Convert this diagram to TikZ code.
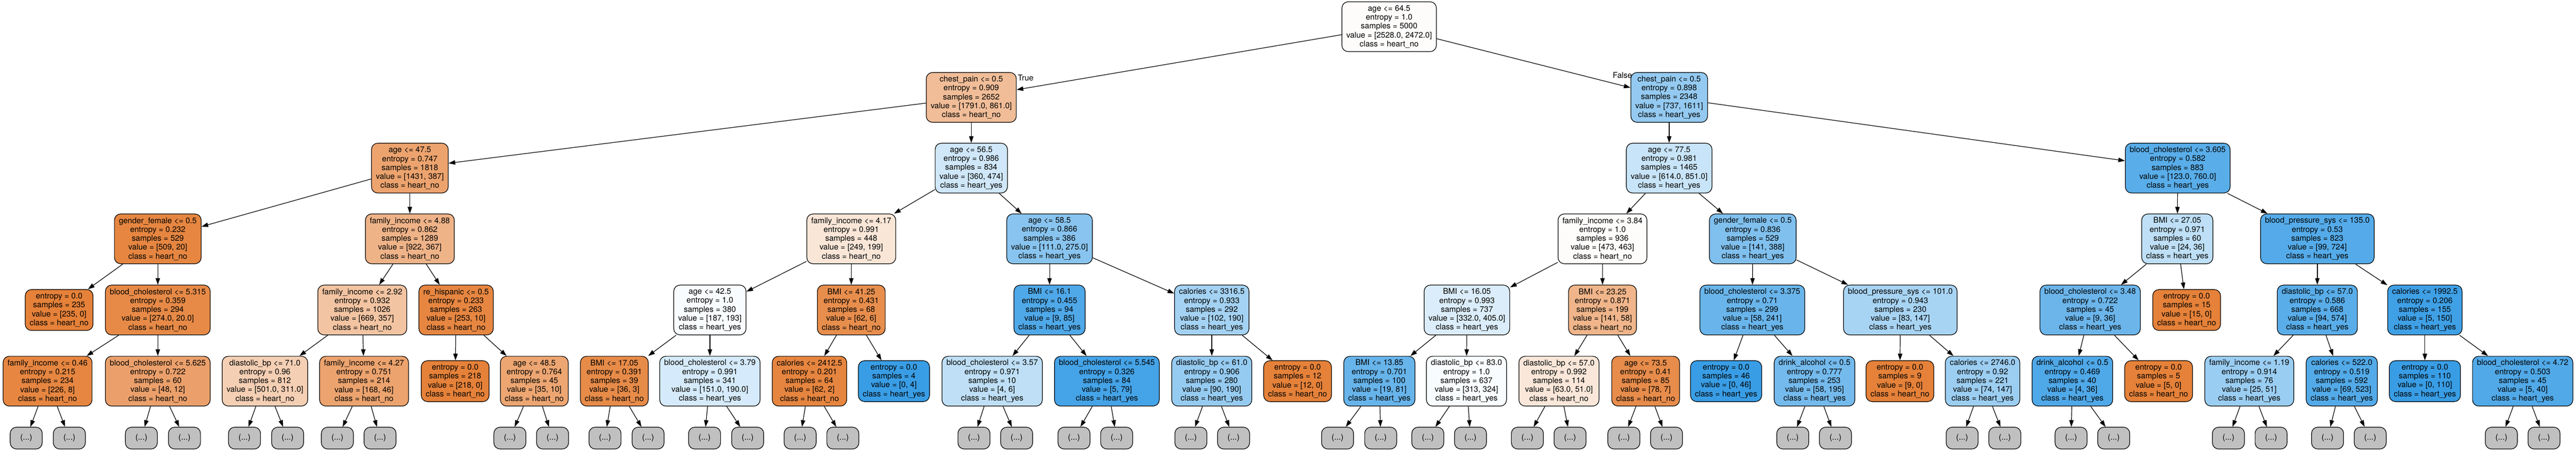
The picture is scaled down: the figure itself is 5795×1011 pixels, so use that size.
\documentclass[tikz,border=0pt]{standalone}
\usepackage{fontspec}
\setmainfont{TeX Gyre Heros}
\usetikzlibrary{arrows.meta}
\definecolor{hno}{RGB}{229,129,57}
\definecolor{hyes}{RGB}{57,157,229}
\definecolor{elidedgray}{RGB}{192,192,192}
\begin{document}
\begin{tikzpicture}[x=0.1mm, y=-0.1mm, line width=0.4pt, >={Triangle[length=1.5mm, width=1mm]},
	nodebox/.style = {draw, rounded corners=1.4mm, align=center, inner xsep=1mm, inner ysep=0pt, font=\fontsize{5.1pt}{5.69pt}\selectfont},
	splitbox/.style = {nodebox, minimum height=11.2mm},
	leafbox/.style = {nodebox, minimum height=9.2mm},
	elided/.style = {nodebox, fill=elidedgray, minimum width=7.2mm, minimum height=4.9mm, inner xsep=0pt},
	edgetext/.style = {inner sep=0pt, font=\fontsize{5.1pt}{5.69pt}\selectfont}]
\useasboundingbox (0,0) rectangle (5795,1011);
	\node (S0) at (3125,  60)	[splitbox, fill = hno!2]	{age <= 64.5\\entropy = 1.0\\samples = 5000\\value = [2528.0, 2472.0]\\class = heart\_no};
	\node (S1) at (2185, 219)	[splitbox, fill = hno!52]	{chest\_pain <= 0.5\\entropy = 0.909\\samples = 2652\\value = [1791.0, 861.0]\\class = heart\_no};
	\node (S2) at (3755, 219)	[splitbox, fill = hyes!54]	{chest\_pain <= 0.5\\entropy = 0.898\\samples = 2348\\value = [737, 1611]\\class = heart\_yes};
	\node (S3) at ( 922, 378)	[splitbox, fill = hno!73]	{age <= 47.5\\entropy = 0.747\\samples = 1818\\value = [1431, 387]\\class = heart\_no};
	\node (S4) at (2185, 378)	[splitbox, fill = hyes!24]	{age <= 56.5\\entropy = 0.986\\samples = 834\\value = [360, 474]\\class = heart\_yes};
	\node (S5) at (3755, 378)	[splitbox, fill = hyes!28]	{age <= 77.5\\entropy = 0.981\\samples = 1465\\value = [614.0, 851.0]\\class = heart\_yes};
	\node (S6) at (4899, 378)	[splitbox, fill = hyes!84]	{blood\_cholesterol <= 3.605\\entropy = 0.582\\samples = 883\\value = [123.0, 760.0]\\class = heart\_yes};
	\node (S7) at ( 355, 537)	[splitbox, fill = hno!96]	{gender\_female <= 0.5\\entropy = 0.232\\samples = 529\\value = [509, 20]\\class = heart\_no};
	\node (S8) at ( 922, 537)	[splitbox, fill = hno!60]	{family\_income <= 4.88\\entropy = 0.862\\samples = 1289\\value = [922, 367]\\class = heart\_no};
	\node (S9) at (1915, 537)	[splitbox, fill = hno!20]	{family\_income <= 4.17\\entropy = 0.991\\samples = 448\\value = [249, 199]\\class = heart\_no};
	\node (S10) at (2361, 537)	[splitbox, fill = hyes!60]	{age <= 58.5\\entropy = 0.866\\samples = 386\\value = [111.0, 275.0]\\class = heart\_yes};
	\node (S11) at (3605, 537)	[splitbox, fill = hno!2]	{family\_income <= 3.84\\entropy = 1.0\\samples = 936\\value = [473, 463]\\class = heart\_no};
	\node (S12) at (3943, 537)	[splitbox, fill = hyes!64]	{gender\_female <= 0.5\\entropy = 0.836\\samples = 529\\value = [141, 388]\\class = heart\_yes};
	\node (S13) at (4898, 537)	[splitbox, fill = hyes!33]	{BMI <= 27.05\\entropy = 0.971\\samples = 60\\value = [24, 36]\\class = heart\_yes};
	\node (S14) at (5213, 537)	[splitbox, fill = hyes!86]	{blood\_pressure\_sys <= 135.0\\entropy = 0.53\\samples = 823\\value = [99, 724]\\class = heart\_yes};
	\node (L1) at ( 133, 697)	[leafbox, fill = hno]	{entropy = 0.0\\samples = 235\\value = [235, 0]\\class = heart\_no};
	\node (S15) at ( 355, 697)	[splitbox, fill = hno!93]	{blood\_cholesterol <= 5.315\\entropy = 0.359\\samples = 294\\value = [274.0, 20.0]\\class = heart\_no};
	\node (S16) at ( 815, 697)	[splitbox, fill = hno!47]	{family\_income <= 2.92\\entropy = 0.932\\samples = 1026\\value = [669, 357]\\class = heart\_no};
	\node (S17) at (1026, 697)	[splitbox, fill = hno!96]	{re\_hispanic <= 0.5\\entropy = 0.233\\samples = 263\\value = [253, 10]\\class = heart\_no};
	\node (S18) at (1597, 697)	[splitbox, fill = hyes!3]	{age <= 42.5\\entropy = 1.0\\samples = 380\\value = [187, 193]\\class = heart\_yes};
	\node (S19) at (1915, 697)	[splitbox, fill = hno!90]	{BMI <= 41.25\\entropy = 0.431\\samples = 68\\value = [62, 6]\\class = heart\_no};
	\node (S20) at (2361, 697)	[splitbox, fill = hyes!89]	{BMI <= 16.1\\entropy = 0.455\\samples = 94\\value = [9, 85]\\class = heart\_yes};
	\node (S21) at (2726, 697)	[splitbox, fill = hyes!46]	{calories <= 3316.5\\entropy = 0.933\\samples = 292\\value = [102, 190]\\class = heart\_yes};
	\node (S22) at (3300, 697)	[splitbox, fill = hyes!18]	{BMI <= 16.05\\entropy = 0.993\\samples = 737\\value = [332.0, 405.0]\\class = heart\_yes};
	\node (S23) at (3605, 697)	[splitbox, fill = hno!59]	{BMI <= 23.25\\entropy = 0.871\\samples = 199\\value = [141, 58]\\class = heart\_no};
	\node (S24) at (3942, 697)	[splitbox, fill = hyes!76]	{blood\_cholesterol <= 3.375\\entropy = 0.71\\samples = 299\\value = [58, 241]\\class = heart\_yes};
	\node (S25) at (4275, 697)	[splitbox, fill = hyes!44]	{blood\_pressure\_sys <= 101.0\\entropy = 0.943\\samples = 230\\value = [83, 147]\\class = heart\_yes};
	\node (S26) at (4702, 697)	[splitbox, fill = hyes!75]	{blood\_cholesterol <= 3.48\\entropy = 0.722\\samples = 45\\value = [9, 36]\\class = heart\_yes};
	\node (L2) at (4919, 697)	[leafbox, fill = hno]	{entropy = 0.0\\samples = 15\\value = [15, 0]\\class = heart\_no};
	\node (S27) at (5213, 697)	[splitbox, fill = hyes!84]	{diastolic\_bp <= 57.0\\entropy = 0.586\\samples = 668\\value = [94, 574]\\class = heart\_yes};
	\node (S28) at (5455, 697)	[splitbox, fill = hyes!97]	{calories <= 1992.5\\entropy = 0.206\\samples = 155\\value = [5, 150]\\class = heart\_yes};
	\node (S29) at ( 107, 857)	[splitbox, fill = hno!96]	{family\_income <= 0.46\\entropy = 0.215\\samples = 234\\value = [226, 8]\\class = heart\_no};
	\node (S30) at ( 355, 857)	[splitbox, fill = hno!75]	{blood\_cholesterol <= 5.625\\entropy = 0.722\\samples = 60\\value = [48, 12]\\class = heart\_no};
	\node (S31) at ( 596, 857)	[splitbox, fill = hno!38]	{diastolic\_bp <= 71.0\\entropy = 0.96\\samples = 812\\value = [501.0, 311.0]\\class = heart\_no};
	\node (S32) at ( 819, 857)	[splitbox, fill = hno!73]	{family\_income <= 4.27\\entropy = 0.751\\samples = 214\\value = [168, 46]\\class = heart\_no};
	\node (L3) at (1024, 857)	[leafbox, fill = hno]	{entropy = 0.0\\samples = 218\\value = [218, 0]\\class = heart\_no};
	\node (S33) at (1202, 857)	[splitbox, fill = hno!71]	{age <= 48.5\\entropy = 0.764\\samples = 45\\value = [35, 10]\\class = heart\_no};
	\node (S34) at (1382, 857)	[splitbox, fill = hno!92]	{BMI <= 17.05\\entropy = 0.391\\samples = 39\\value = [36, 3]\\class = heart\_no};
	\node (S35) at (1597, 857)	[splitbox, fill = hyes!21]	{blood\_cholesterol <= 3.79\\entropy = 0.991\\samples = 341\\value = [151.0, 190.0]\\class = heart\_yes};
	\node (S36) at (1821, 857)	[splitbox, fill = hno!97]	{calories <= 2412.5\\entropy = 0.201\\samples = 64\\value = [62, 2]\\class = heart\_no};
	\node (L4) at (2011, 857)	[leafbox, fill = hyes]	{entropy = 0.0\\samples = 4\\value = [0, 4]\\class = heart\_yes};
	\node (S37) at (2232, 857)	[splitbox, fill = hyes!33]	{blood\_cholesterol <= 3.57\\entropy = 0.971\\samples = 10\\value = [4, 6]\\class = heart\_yes};
	\node (S38) at (2490, 857)	[splitbox, fill = hyes!94]	{blood\_cholesterol <= 5.545\\entropy = 0.326\\samples = 84\\value = [5, 79]\\class = heart\_yes};
	\node (S39) at (2726, 857)	[splitbox, fill = hyes!53]	{diastolic\_bp <= 61.0\\entropy = 0.906\\samples = 280\\value = [90, 190]\\class = heart\_yes};
	\node (L5) at (2919, 857)	[leafbox, fill = hno]	{entropy = 0.0\\samples = 12\\value = [12, 0]\\class = heart\_no};
	\node (S40) at (3103, 857)	[splitbox, fill = hyes!77]	{BMI <= 13.85\\entropy = 0.701\\samples = 100\\value = [19, 81]\\class = heart\_yes};
	\node (S41) at (3299, 857)	[splitbox, fill = hyes!3]	{diastolic\_bp <= 83.0\\entropy = 1.0\\samples = 637\\value = [313, 324]\\class = heart\_yes};
	\node (S42) at (3507, 857)	[splitbox, fill = hno!19]	{diastolic\_bp <= 57.0\\entropy = 0.992\\samples = 114\\value = [63.0, 51.0]\\class = heart\_no};
	\node (S43) at (3702, 857)	[splitbox, fill = hno!91]	{age <= 73.5\\entropy = 0.41\\samples = 85\\value = [78, 7]\\class = heart\_no};
	\node (L6) at (3883, 857)	[leafbox, fill = hyes]	{entropy = 0.0\\samples = 46\\value = [0, 46]\\class = heart\_yes};
	\node (S44) at (4082, 857)	[splitbox, fill = hyes!70]	{drink\_alcohol <= 0.5\\entropy = 0.777\\samples = 253\\value = [58, 195]\\class = heart\_yes};
	\node (L7) at (4274, 857)	[leafbox, fill = hno]	{entropy = 0.0\\samples = 9\\value = [9, 0]\\class = heart\_no};
	\node (S45) at (4460, 857)	[splitbox, fill = hyes!50]	{calories <= 2746.0\\entropy = 0.92\\samples = 221\\value = [74, 147]\\class = heart\_yes};
	\node (S46) at (4662, 857)	[splitbox, fill = hyes!89]	{drink\_alcohol <= 0.5\\entropy = 0.469\\samples = 40\\value = [4, 36]\\class = heart\_yes};
	\node (L8) at (4856, 857)	[leafbox, fill = hno]	{entropy = 0.0\\samples = 5\\value = [5, 0]\\class = heart\_no};
	\node (S47) at (5060, 857)	[splitbox, fill = hyes!51]	{family\_income <= 1.19\\entropy = 0.914\\samples = 76\\value = [25, 51]\\class = heart\_yes};
	\node (S48) at (5268, 857)	[splitbox, fill = hyes!87]	{calories <= 522.0\\entropy = 0.519\\samples = 592\\value = [69, 523]\\class = heart\_yes};
	\node (L9) at (5455, 857)	[leafbox, fill = hyes]	{entropy = 0.0\\samples = 110\\value = [0, 110]\\class = heart\_yes};
	\node (S49) at (5675, 857)	[splitbox, fill = hyes!88]	{blood\_cholesterol <= 4.72\\entropy = 0.503\\samples = 45\\value = [5, 40]\\class = heart\_yes};
	\node (M1) at (  59, 985)	[elided]	{(...)};
	\node (M2) at ( 156, 985)	[elided]	{(...)};
	\node (M3) at ( 318, 985)	[elided]	{(...)};
	\node (M4) at ( 415, 985)	[elided]	{(...)};
	\node (M5) at ( 550, 985)	[elided]	{(...)};
	\node (M6) at ( 647, 985)	[elided]	{(...)};
	\node (M7) at ( 759, 985)	[elided]	{(...)};
	\node (M8) at ( 855, 985)	[elided]	{(...)};
	\node (M9) at (1147, 985)	[elided]	{(...)};
	\node (M10) at (1243, 985)	[elided]	{(...)};
	\node (M11) at (1361, 985)	[elided]	{(...)};
	\node (M12) at (1458, 985)	[elided]	{(...)};
	\node (M13) at (1585, 985)	[elided]	{(...)};
	\node (M14) at (1682, 985)	[elided]	{(...)};
	\node (M15) at (1800, 985)	[elided]	{(...)};
	\node (M16) at (1896, 985)	[elided]	{(...)};
	\node (M17) at (2191, 985)	[elided]	{(...)};
	\node (M18) at (2287, 985)	[elided]	{(...)};
	\node (M19) at (2416, 985)	[elided]	{(...)};
	\node (M20) at (2512, 985)	[elided]	{(...)};
	\node (M21) at (2679, 985)	[elided]	{(...)};
	\node (M22) at (2775, 985)	[elided]	{(...)};
	\node (M23) at (3009, 985)	[elided]	{(...)};
	\node (M24) at (3106, 985)	[elided]	{(...)};
	\node (M25) at (3212, 985)	[elided]	{(...)};
	\node (M26) at (3308, 985)	[elided]	{(...)};
	\node (M27) at (3436, 985)	[elided]	{(...)};
	\node (M28) at (3532, 985)	[elided]	{(...)};
	\node (M29) at (3653, 985)	[elided]	{(...)};
	\node (M30) at (3749, 985)	[elided]	{(...)};
	\node (M31) at (4033, 985)	[elided]	{(...)};
	\node (M32) at (4129, 985)	[elided]	{(...)};
	\node (M33) at (4414, 985)	[elided]	{(...)};
	\node (M34) at (4510, 985)	[elided]	{(...)};
	\node (M35) at (4659, 985)	[elided]	{(...)};
	\node (M36) at (4755, 985)	[elided]	{(...)};
	\node (M37) at (5013, 985)	[elided]	{(...)};
	\node (M38) at (5109, 985)	[elided]	{(...)};
	\node (M39) at (5236, 985)	[elided]	{(...)};
	\node (M40) at (5332, 985)	[elided]	{(...)};
	\node (M41) at (5627, 985)	[elided]	{(...)};
	\node (M42) at (5723, 985)	[elided]	{(...)};
	\node (T) at (2289, 175)	[edgetext, anchor = west]	{True};
	\node (F) at (3672, 169)	[edgetext, anchor = east]	{False};
	\draw[->] (S0) -- (S1);
	\draw[->] (S0) -- (S2);
	\draw[->] (S1) -- (S3);
	\draw[->] (S1) -- (S4);
	\draw[->] (S2) -- (S5);
	\draw[->] (S2) -- (S6);
	\draw[->] (S3) -- (S7);
	\draw[->] (S3) -- (S8);
	\draw[->] (S4) -- (S9);
	\draw[->] (S4) -- (S10);
	\draw[->] (S5) -- (S11);
	\draw[->] (S5) -- (S12);
	\draw[->] (S6) -- (S13);
	\draw[->] (S6) -- (S14);
	\draw[->] (S7) -- (L1);
	\draw[->] (S7) -- (S15);
	\draw[->] (S8) -- (S16);
	\draw[->] (S8) -- (S17);
	\draw[->] (S9) -- (S18);
	\draw[->] (S9) -- (S19);
	\draw[->] (S10) -- (S20);
	\draw[->] (S10) -- (S21);
	\draw[->] (S11) -- (S22);
	\draw[->] (S11) -- (S23);
	\draw[->] (S12) -- (S24);
	\draw[->] (S12) -- (S25);
	\draw[->] (S13) -- (S26);
	\draw[->] (S13) -- (L2);
	\draw[->] (S14) -- (S27);
	\draw[->] (S14) -- (S28);
	\draw[->] (S15) -- (S29);
	\draw[->] (S15) -- (S30);
	\draw[->] (S16) -- (S31);
	\draw[->] (S16) -- (S32);
	\draw[->] (S17) -- (L3);
	\draw[->] (S17) -- (S33);
	\draw[->] (S18) -- (S34);
	\draw[->] (S18) -- (S35);
	\draw[->] (S19) -- (S36);
	\draw[->] (S19) -- (L4);
	\draw[->] (S20) -- (S37);
	\draw[->] (S20) -- (S38);
	\draw[->] (S21) -- (S39);
	\draw[->] (S21) -- (L5);
	\draw[->] (S22) -- (S40);
	\draw[->] (S22) -- (S41);
	\draw[->] (S23) -- (S42);
	\draw[->] (S23) -- (S43);
	\draw[->] (S24) -- (L6);
	\draw[->] (S24) -- (S44);
	\draw[->] (S25) -- (L7);
	\draw[->] (S25) -- (S45);
	\draw[->] (S26) -- (S46);
	\draw[->] (S26) -- (L8);
	\draw[->] (S27) -- (S47);
	\draw[->] (S27) -- (S48);
	\draw[->] (S28) -- (L9);
	\draw[->] (S28) -- (S49);
	\draw[->] (S29) -- (M1);
	\draw[->] (S29) -- (M2);
	\draw[->] (S30) -- (M3);
	\draw[->] (S30) -- (M4);
	\draw[->] (S31) -- (M5);
	\draw[->] (S31) -- (M6);
	\draw[->] (S32) -- (M7);
	\draw[->] (S32) -- (M8);
	\draw[->] (S33) -- (M9);
	\draw[->] (S33) -- (M10);
	\draw[->] (S34) -- (M11);
	\draw[->] (S34) -- (M12);
	\draw[->] (S35) -- (M13);
	\draw[->] (S35) -- (M14);
	\draw[->] (S36) -- (M15);
	\draw[->] (S36) -- (M16);
	\draw[->] (S37) -- (M17);
	\draw[->] (S37) -- (M18);
	\draw[->] (S38) -- (M19);
	\draw[->] (S38) -- (M20);
	\draw[->] (S39) -- (M21);
	\draw[->] (S39) -- (M22);
	\draw[->] (S40) -- (M23);
	\draw[->] (S40) -- (M24);
	\draw[->] (S41) -- (M25);
	\draw[->] (S41) -- (M26);
	\draw[->] (S42) -- (M27);
	\draw[->] (S42) -- (M28);
	\draw[->] (S43) -- (M29);
	\draw[->] (S43) -- (M30);
	\draw[->] (S44) -- (M31);
	\draw[->] (S44) -- (M32);
	\draw[->] (S45) -- (M33);
	\draw[->] (S45) -- (M34);
	\draw[->] (S46) -- (M35);
	\draw[->] (S46) -- (M36);
	\draw[->] (S47) -- (M37);
	\draw[->] (S47) -- (M38);
	\draw[->] (S48) -- (M39);
	\draw[->] (S48) -- (M40);
	\draw[->] (S49) -- (M41);
	\draw[->] (S49) -- (M42);
\end{tikzpicture}
\end{document}
